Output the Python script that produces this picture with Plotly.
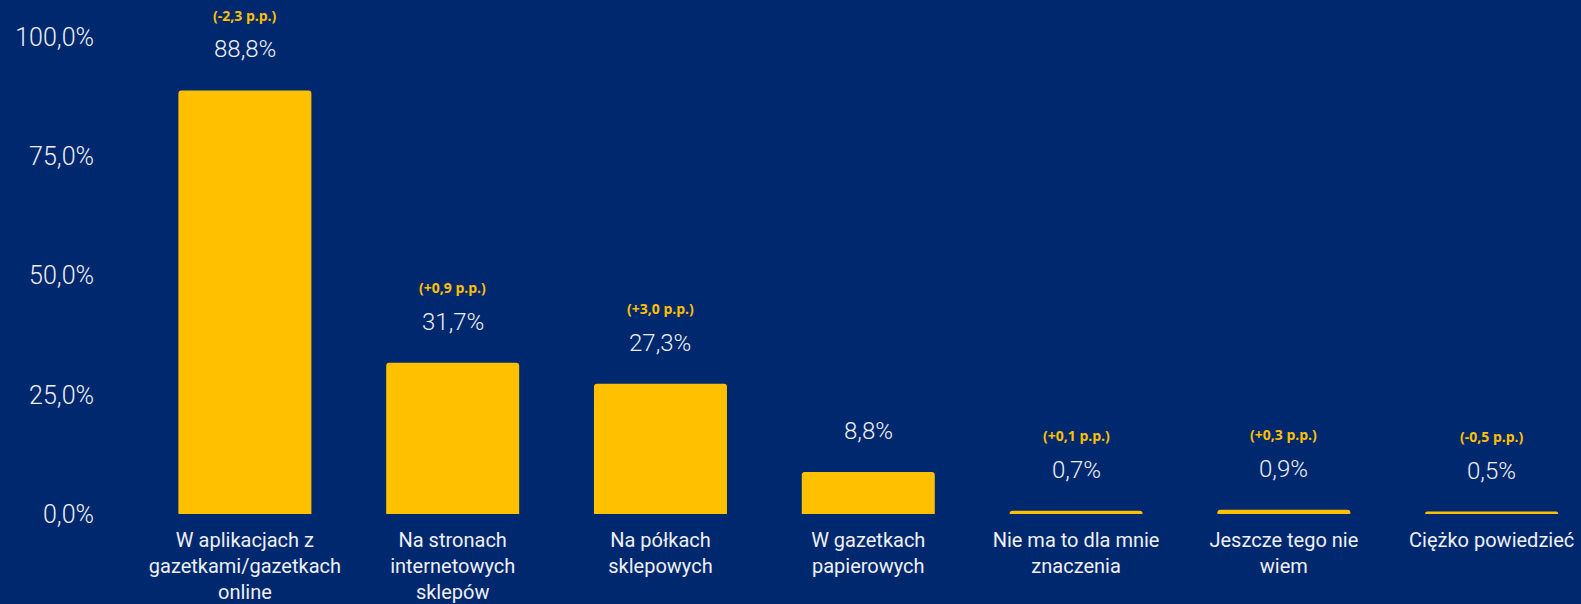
import plotly.graph_objects as go

categories = [
    "W aplikacjach z<br>gazetkami/gazetkach<br>online",
    "Na stronach<br>internetowych<br>sklepów",
    "Na półkach<br>sklepowych",
    "W gazetkach<br>papierowych",
    "Nie ma to dla mnie<br>znaczenia",
    "Jeszcze tego nie<br>wiem",
    "Ciężko powiedzieć",
]
values = [88.8, 31.7, 27.3, 8.8, 0.7, 0.9, 0.5]
value_labels = ["88,8%", "31,7%", "27,3%", "8,8%", "0,7%", "0,9%", "0,5%"]
change_labels = ["(-2,3 p.p.)", "(+0,9 p.p.)", "(+3,0 p.p.)", "", "(+0,1 p.p.)", "(+0,3 p.p.)", "(-0,5 p.p.)"]
y_tickvals = [0, 25, 50, 75, 100]
y_ticktext = ["0,0%", "25,0%", "50,0%", "75,0%", "100,0%"]

BG = "#00286E"
BAR = "#FFC000"
TXT = "#EEF0F6"

xs = list(range(len(categories)))

fig = go.Figure()
fig.add_trace(go.Bar(
    x=xs, y=values, marker=dict(color=BAR, line=dict(width=0)),
    width=0.64, hoverinfo="skip",
))

for xi, v, vl, cl in zip(xs, values, value_labels, change_labels):
    fig.add_annotation(x=xi, y=v, text=vl, showarrow=False, yshift=41,
                       font=dict(family="Roboto", size=24, weight=300, color=TXT))
    if cl:
        fig.add_annotation(x=xi, y=v, text="<b>" + cl + "</b>", showarrow=False, yshift=75,
                           font=dict(family="Open Sans", size=14, color=BAR))

fig.update_layout(
    width=1581, height=604,
    paper_bgcolor=BG, plot_bgcolor=BG,
    margin=dict(l=141, r=0, t=0, b=90),
    showlegend=False,
    barcornerradius=3,
    xaxis=dict(
        tickmode="array", tickvals=xs, ticktext=categories,
        range=[-0.5, 6.43], showgrid=False, zeroline=False, showline=False,
        tickfont=dict(family="Roboto", size=20, color=TXT),
        ticks="", ticklabelstandoff=12,
    ),
    yaxis=dict(
        tickmode="array", tickvals=y_tickvals, ticktext=y_ticktext,
        range=[0, 107.76], showgrid=False, zeroline=False, showline=False,
        tickfont=dict(family="Roboto", size=25, weight=300, color=TXT),
        ticklabelstandoff=46, ticks="",
    ),
)

fig.write_html("out.html", config={"displayModeBar": False},
               post_script="document.body.style.margin='0';document.body.style.background='" + BG + "';")
